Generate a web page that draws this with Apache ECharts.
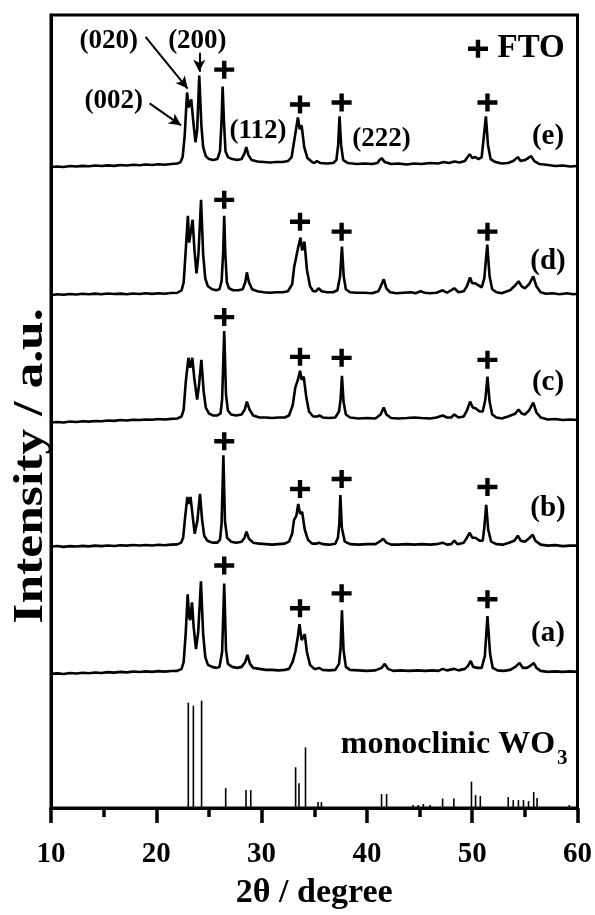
<!DOCTYPE html>
<html>
<head>
<meta charset="utf-8">
<script src="https://cdn.jsdelivr.net/npm/echarts@6/dist/echarts.min.js"></script>
<style>
  html, body { margin: 0; padding: 0; background: #fff; }
  #main { width: 595px; height: 915px; }
</style>
</head>
<body>
<div id="main"></div>
<script>
// XRD patterns, [2theta, intensity above own baseline]
const patternE = [
  [10.0,-2],[10.6,-1.5],[11.2,-2],[11.8,-1],[12.4,-1.5],[13.0,-0.8],[13.6,-1.2],[14.2,-0.5],[14.8,-1],[15.4,-0.3],
  [16.0,-0.8],[16.6,0],[17.2,-0.5],[17.8,0.3],[18.4,-0.2],[19.0,0.5],[19.6,0],[20.2,0.8],[20.8,0.3],[21.4,1],
  [22.0,1.5],[22.3,3],[22.5,8],[22.7,30],[22.92,73],[23.08,58],[23.16,56],[23.32,66],[23.5,45],[23.72,23],
  [23.88,35],[24.08,90],[24.28,40],[24.45,18],[24.7,9],[25.0,6],[25.4,5],[25.8,6],[26.05,14],[26.2,45],
  [26.3,79],[26.42,45],[26.57,14],[26.8,8],[27.2,6],[27.7,5],[28.1,6],[28.38,12],[28.55,18],[28.75,10],
  [29.05,5],[29.6,3.5],[30.2,3],[30.8,2.5],[31.4,3],[32.0,3],[32.5,4],[32.85,8],[33.15,28],[33.45,48],
  [33.62,36],[33.8,40],[34.05,18],[34.35,7],[34.8,3],[35.0,2],[35.25,4],[35.6,2],[36.2,1.5],[36.8,2],
  [37.1,5],[37.27,20],[37.4,49],[37.55,20],[37.75,5],[38.2,2],[39.0,1],[39.8,1.5],[40.5,1],[41.0,2],
  [41.2,5],[41.4,7],[41.7,3],[42.3,1],[43.0,1.5],[43.8,0.5],[44.5,1.5],[45.2,1],[46.0,2],[46.8,1.5],
  [47.3,3],[47.8,2],[48.3,3.5],[48.8,2.5],[49.3,4],[49.76,11],[50.0,7],[50.3,8],[50.6,6],[50.9,8],
  [51.12,30],[51.3,49],[51.5,20],[51.75,6],[52.2,3],[52.8,1.5],[53.4,2],[53.9,4],[54.33,8],[54.6,4],
  [55.0,5],[55.3,7],[55.6,9],[55.9,4],[56.4,1],[57.2,0],[57.9,-1],[58.6,-0.5],[59.3,-1.5],[60.0,-1]
];
const patternD = [
  [10.0,-1],[10.6,0],[11.2,-0.5],[11.8,0.3],[12.4,-0.3],[13.0,0.5],[13.6,0],[14.2,0.6],[14.8,0],[15.4,0.8],
  [16.0,0.2],[16.6,0.6],[17.2,0],[17.8,0.8],[18.4,0.3],[19.0,1],[19.6,0.4],[20.2,1],[20.8,0.5],[21.4,1.2],
  [22.0,1.5],[22.4,4],[22.6,12],[22.8,45],[23.0,79],[23.12,52],[23.25,50],[23.45,75],[23.62,45],[23.82,21],
  [24.0,40],[24.25,95],[24.45,40],[24.65,16],[24.9,8],[25.3,5],[25.7,4],[26.0,5],[26.2,13],[26.35,42],
  [26.45,79],[26.55,42],[26.7,12],[26.9,6],[27.3,4],[27.8,4],[28.2,5],[28.45,12],[28.6,22],[28.8,12],
  [29.1,5],[29.6,3],[30.2,2],[30.8,1.5],[31.4,2],[32.0,2],[32.5,3],[32.9,10],[33.1,28],[33.22,34],
  [33.45,46],[33.69,57],[33.85,44],[34.07,53],[34.3,25],[34.6,8],[34.9,3],[35.15,3],[35.43,6],[35.7,3],
  [36.2,2],[36.8,2],[37.2,4],[37.45,18],[37.63,48],[37.8,18],[38.0,5],[38.4,2],[39.0,1.5],[39.8,1.5],
  [40.5,1],[41.1,3],[41.4,10],[41.6,15],[41.85,6],[42.2,2],[42.8,1],[43.5,1.5],[44.2,2],[44.6,1],
  [45.1,3],[45.5,1.5],[46.0,1],[46.6,1.5],[47.2,4],[47.6,1.5],[48.3,6],[48.7,2],[49.2,3],[49.5,8],
  [49.8,17],[50.0,11],[50.3,11],[50.6,9],[50.9,7],[51.15,16],[51.43,50],[51.65,18],[51.9,5],[52.3,2],
  [52.8,1],[53.3,3],[53.6,4],[54.0,8],[54.4,13],[54.7,8],[55.0,6],[55.4,10],[55.8,18],[56.1,8],
  [56.5,2],[57.0,0.5],[57.6,1],[58.3,0],[59.0,1],[59.6,0],[60.0,0.5]
];
const patternC = [
  [10.0,-3],[10.6,-2.5],[11.2,-3],[11.8,-2],[12.4,-2.5],[13.0,-1.8],[13.6,-2.2],[14.2,-1.5],[14.8,-1.8],[15.4,-1],
  [16.0,-1.4],[16.6,-0.6],[17.2,-1],[17.8,-0.3],[18.4,-0.6],[19.0,0],[19.6,-0.3],[20.2,0.4],[20.8,0],[21.4,0.6],
  [22.0,1],[22.4,3],[22.6,10],[22.8,38],[23.05,62],[23.22,52],[23.42,62],[23.6,42],[23.88,20],[24.05,34],
  [24.28,60],[24.5,28],[24.7,12],[25.0,6],[25.4,4],[25.8,4],[26.1,6],[26.25,20],[26.45,89],[26.62,25],
  [26.8,9],[27.1,5],[27.6,4],[28.1,5],[28.4,10],[28.6,18],[28.85,10],[29.2,4],[29.8,2],[30.4,2],
  [31.0,1.5],[31.6,2],[32.2,2],[32.6,4],[32.95,14],[33.2,32],[33.45,40],[33.65,49],[33.8,40],[34.0,43],
  [34.25,22],[34.5,8],[34.9,3],[35.3,3],[35.5,4],[35.8,2],[36.4,1.5],[37.0,2],[37.35,8],[37.5,20],
  [37.63,44],[37.78,18],[38.0,5],[38.4,2],[39.2,1],[40.0,1.5],[40.8,1],[41.3,5],[41.6,12],[41.85,5],
  [42.3,1.5],[43.0,1],[43.8,1.5],[44.5,2],[45.2,1.5],[46.0,1],[46.6,2],[47.2,4],[47.6,2],[48.0,2],
  [48.3,5],[48.7,2],[49.2,3],[49.5,9],[49.8,18],[50.05,12],[50.35,11],[50.7,8],[51.0,8],[51.25,20],
  [51.45,43],[51.65,18],[51.9,5],[52.3,2],[52.8,1],[53.4,3],[53.9,5],[54.1,6],[54.4,10],[54.7,6],
  [55.0,5],[55.4,9],[55.8,17],[56.1,7],[56.5,2],[57.2,0],[57.9,0.5],[58.6,-0.5],[59.3,0],[60.0,-0.5]
];
const patternB = [
  [10.0,-1],[10.6,-0.4],[11.2,-1.2],[11.8,-0.5],[12.4,-0.9],[13.0,-0.2],[13.6,-0.7],[14.2,0],[14.8,-0.5],[15.4,0.2],
  [16.0,-0.3],[16.6,0.4],[17.2,0],[17.8,0.6],[18.4,0.1],[19.0,0.7],[19.6,0.2],[20.2,0.9],[20.8,0.4],[21.4,1],
  [22.0,1.3],[22.35,3],[22.55,8],[22.75,30],[22.95,49],[23.1,42],[23.25,49],[23.45,30],[23.65,12],[23.9,25],
  [24.15,52],[24.35,26],[24.55,10],[24.85,5],[25.3,3],[25.8,3],[26.05,6],[26.2,22],[26.37,91],[26.52,25],
  [26.72,8],[27.1,4],[27.6,3],[28.1,4],[28.38,8],[28.56,14],[28.8,7],[29.2,3],[29.8,2],[30.4,1.5],
  [31.0,1],[31.6,1.5],[32.2,2],[32.6,4],[32.9,12],[33.08,26],[33.3,30],[33.48,42],[33.65,32],[33.85,34],
  [34.1,16],[34.4,6],[34.8,2],[35.2,2],[35.45,3],[35.8,1.5],[36.4,1],[37.0,2],[37.25,8],[37.38,22],
  [37.48,51],[37.62,18],[37.9,4],[38.4,1.5],[39.2,1],[40.0,1.5],[40.8,1.5],[41.2,4],[41.55,7],[41.85,3],
  [42.3,1],[43.0,1],[43.8,1.5],[44.5,1],[45.2,1.5],[46.0,1],[46.6,1.5],[47.2,3],[47.6,1],[48.0,1.5],
  [48.3,5],[48.6,1.5],[49.2,3],[49.5,8],[49.76,13],[50.0,8],[50.3,8],[50.7,5],[51.0,5],[51.15,18],
  [51.33,41],[51.52,16],[51.8,4],[52.3,1.5],[52.9,1],[53.5,3],[54.0,5],[54.33,10],[54.6,5],[55.0,4],
  [55.35,7],[55.75,11],[56.0,5],[56.5,1],[57.2,0],[57.9,0.5],[58.6,-0.5],[59.3,0],[60.0,0]
];
const patternA = [
  [10.0,-2],[10.6,-1.5],[11.2,-2.2],[11.8,-1.2],[12.4,-1.7],[13.0,-0.9],[13.6,-1.4],[14.2,-0.6],[14.8,-1.1],[15.4,-0.3],
  [16.0,-0.8],[16.6,0],[17.2,-0.5],[17.8,0.3],[18.4,-0.2],[19.0,0.5],[19.6,0],[20.2,0.7],[20.8,0.2],[21.4,0.8],
  [22.0,1],[22.4,3],[22.6,10],[22.8,40],[22.98,78],[23.12,55],[23.22,52],[23.39,70],[23.55,45],[23.77,23],
  [23.98,40],[24.24,91],[24.45,38],[24.65,15],[24.9,7],[25.3,5],[25.7,4],[26.0,5],[26.25,20],[26.45,89],
  [26.62,22],[26.8,8],[27.2,5],[27.7,4],[28.1,5],[28.45,10],[28.65,17],[28.9,8],[29.2,4],[29.8,3],
  [30.4,2],[31.0,2],[31.6,1.5],[32.2,2],[32.6,3],[32.95,10],[33.22,21],[33.45,36],[33.6,48],[33.8,32],
  [34.1,38],[34.3,20],[34.6,7],[35.0,3],[35.2,3],[35.45,4],[35.8,2],[36.4,1.5],[37.0,2],[37.35,8],
  [37.5,24],[37.63,62],[37.78,22],[38.0,5],[38.4,2],[39.2,1.5],[40.0,1],[40.8,1.5],[41.4,4],[41.7,8],
  [42.0,3],[42.5,1],[43.2,1.5],[44.0,1],[44.8,1.5],[45.5,1],[46.2,1.5],[46.8,1],[47.2,3],[47.6,1.5],
  [48.3,3],[48.7,1.5],[49.3,3],[49.6,6],[49.86,11],[50.1,5],[50.5,4],[50.9,4],[51.2,16],[51.45,56],
  [51.7,18],[51.95,4],[52.4,1.5],[53.0,1],[53.6,2],[54.1,5],[54.5,9],[54.8,4],[55.2,4],[55.5,6],
  [55.84,9],[56.1,4],[56.5,1],[57.2,0],[57.9,0.5],[58.6,0],[59.3,0.5],[60.0,0]
];
// monoclinic WO3 reference pattern (stick positions and heights)
const stickRef = [
  [23.04,106],[23.52,103],[24.30,108],[26.59,20],[28.52,18],[28.97,18],[33.23,41],[33.55,25],[34.17,61],
  [35.36,6],[35.68,6],[41.39,14],[41.87,14],[44.39,3],[44.88,3],[45.36,4],[46.0,3],[47.19,9.5],[48.26,9.5],
  [49.93,26.5],[50.32,13],[50.77,12],[53.42,11],[53.9,8],[54.39,8],[54.87,8],[55.35,7],[55.84,16],[56.16,10],[59.22,3]
];
// FTO peak positions and "+" marker heights (above each baseline)
const ftoPeaks = [26.45, 33.65, 37.6, 51.45];
const ftoMarkE = [96, 61, 63, 63];
const ftoMarkD = [95, 73, 63, 63];
const ftoMarkC = [103, 63, 62, 60];
const ftoMarkB = [105, 57, 67, 59];
const ftoMarkA = [107, 64, 79, 73];
const sampleNames = ['(e)', '(d)', '(c)', '(b)', '(a)'];
const labelHeights = [29, 33, 37, 37, 39];

const chartDom = document.getElementById('main');
const myChart = echarts.init(chartDom);

const FONT = "'Liberation Serif', 'Times New Roman', serif";
const offsets = [647, 517, 391, 264, 137];
const patterns = [patternE, patternD, patternC, patternB, patternA];
const ftoMarks = [ftoMarkE, ftoMarkD, ftoMarkC, ftoMarkB, ftoMarkA];
const PLUS = 'path://M39,0H61V34H100V56H61V90H39V56H0V34H39Z';

const series = [];
patterns.forEach(function (p, i) {
  series.push({
    type: 'line',
    data: p.map(function (pt) { return [pt[0], pt[1] + offsets[i]]; }),
    showSymbol: false,
    lineStyle: { color: '#000', width: 2.6 },
    z: 3
  });
  series.push({
    type: 'scatter',
    data: ftoPeaks.map(function (x, k) { return [x, ftoMarks[i][k] + offsets[i]]; }),
    symbol: PLUS,
    symbolSize: [20, 18],
    itemStyle: { color: '#000', opacity: 1 },
    z: 4
  });
  series.push({
    type: 'scatter',
    data: [[57.2, labelHeights[i] + offsets[i]]],
    symbolSize: 0,
    itemStyle: { opacity: 1 },
    label: {
      show: true,
      position: 'inside',
      formatter: sampleNames[i],
      color: '#000',
      fontFamily: FONT,
      fontWeight: 'bold',
      fontSize: 29
    }
  });
});

// reference sticks
series.push({
  type: 'bar',
  data: stickRef,
  barWidth: 1.6,
  itemStyle: { color: '#000' }
});

// annotation texts
const annotations = [
  { value: [15.95, 711], text: '(002)' },
  { value: [15.48, 772], text: '(020)' },
  { value: [23.9, 772], text: '(200)' },
  { value: [29.66, 681], text: '(112)' },
  { value: [41.38, 673], text: '(222)' },
  { value: [55.6, 764], text: 'FTO', size: 33 },
  { value: [47.7, 64], text: 'monoclinic WO', size: 32 },
  { value: [58.55, 50], text: '3', size: 21 }
];
series.push({
  type: 'scatter',
  symbolSize: 0,
  itemStyle: { opacity: 1 },
  data: annotations.map(function (a) {
    return {
      value: a.value,
      label: {
        show: true,
        position: 'inside',
        formatter: a.text,
        color: '#000',
        fontFamily: FONT,
        fontWeight: 'bold',
        fontSize: a.size || 27
      }
    };
  }),
  markLine: {
    silent: true,
    symbol: ['none', 'arrow'],
    symbolSize: [9, 12],
    label: { show: false },
    lineStyle: { color: '#000', width: 2, type: 'solid' },
    data: [
      [{ coord: [19.36, 709] }, { coord: [22.35, 687] }],
      [{ coord: [18.98, 776] }, { coord: [22.98, 724] }],
      [{ coord: [24.08, 760] }, { coord: [24.08, 741] }]
    ]
  }
});
// "+" of the FTO legend
series.push({
  type: 'scatter',
  data: [[50.55, 764]],
  symbol: PLUS,
  symbolSize: [20, 18],
  itemStyle: { color: '#000', opacity: 1 }
});

const option = {
  animation: false,
  backgroundColor: '#fff',
  grid: {
    left: 51, right: 15, top: 15, bottom: 102,
    show: true, borderColor: '#000', borderWidth: 3
  },
  xAxis: {
    type: 'value',
    min: 10, max: 60, interval: 10,
    name: '2θ / degree',
    nameLocation: 'middle',
    nameGap: 68,
    nameTextStyle: { color: '#000', fontFamily: FONT, fontWeight: 'bold', fontSize: 34 },
    axisLine: { lineStyle: { color: '#000', width: 3 } },
    axisTick: { length: 15, lineStyle: { color: '#000', width: 3.5 } },
    minorTick: { show: true, splitNumber: 2, length: 9, lineStyle: { color: '#000', width: 3.5 } },
    splitLine: { show: false },
    axisLabel: { color: '#000', fontFamily: FONT, fontWeight: 'bold', fontSize: 29, margin: 32 }
  },
  yAxis: {
    type: 'value',
    min: 0, max: 798,
    axisLine: { show: true, lineStyle: { color: '#000', width: 3 } },
    axisTick: { show: false },
    axisLabel: { show: false },
    splitLine: { show: false }
  },
  graphic: [{
    type: 'text',
    x: 31, y: 466,
    rotation: Math.PI / 2,
    scaleX: 1.2,
    style: {
      text: 'Intensity / a.u.',
      fill: '#000',
      font: 'bold 43px ' + FONT,
      align: 'center',
      verticalAlign: 'middle'
    }
  }],
  series: series
};

option && myChart.setOption(option);
</script>
</body>
</html>
